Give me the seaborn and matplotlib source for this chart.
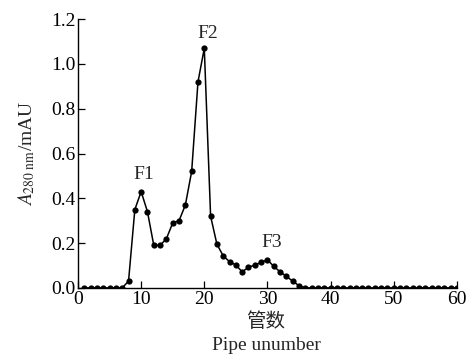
import numpy as np
import pandas as pd
import matplotlib
matplotlib.use("Agg")
import matplotlib.pyplot as plt
import seaborn as sns

# tube number and absorbance
tubes = list(range(1, 61))
absorbance = ([0.0] * 7 +
              [0.03, 0.35, 0.43, 0.34, 0.19, 0.19, 0.22, 0.29, 0.30, 0.37,
               0.52, 0.92, 1.07, 0.32, 0.195, 0.143, 0.117, 0.102, 0.072,
               0.092, 0.102, 0.114, 0.126, 0.096, 0.072, 0.052, 0.03, 0.01] +
              [0.0] * 25)
peak_labels = ["F1", "F2", "F3"]
peak_x = [10.4, 20.6, 30.6]
peak_y = [0.47, 1.10, 0.165]

df = pd.DataFrame({"tube": tubes, "a280": absorbance})

sns.set_theme(style="ticks")
plt.rcParams["font.family"] = ["Liberation Serif", "DejaVu Serif"]
plt.rcParams["mathtext.fontset"] = "stix"

fig = plt.figure(figsize=(4.7, 3.55), dpi=100)
ax = fig.add_axes([0.166, 0.189, 0.806, 0.757])

sns.lineplot(data=df, x="tube", y="a280", ax=ax, color="black", linewidth=1.1,
             marker="o", markersize=4.5, markeredgewidth=0, markerfacecolor="black")

for lab, x, y in zip(peak_labels, peak_x, peak_y):
    ax.text(x, y, lab, ha="center", va="bottom", fontsize=14)

ax.set_xlim(0, 60)
ax.set_ylim(0, 1.2)
ax.set_xticks(np.arange(0, 61, 10))
ax.set_yticks(np.arange(0, 1.21, 0.2))
ax.set_yticklabels([f"{v:.1f}" for v in np.arange(0, 1.21, 0.2)])
ax.tick_params(direction="in", length=5, width=0.9, labelsize=14, pad=2,
               colors="black")
for s in ["left", "bottom"]:
    ax.spines[s].set_color("black")
    ax.spines[s].set_linewidth(1.0)
sns.despine(ax=ax)

ax.set_xlabel("")
ax.set_ylabel(r"$\mathit{A}_{\mathrm{280\ nm}}$/mAU", fontsize=14, labelpad=10)

fig.text(0.566, 0.093, "管数", ha="center", va="center", fontsize=14,
         family=["Noto Sans CJK SC", "DejaVu Sans"])
fig.text(0.566, 0.028, "Pipe unumber", ha="center", va="center", fontsize=14)

fig.savefig("out.png", dpi=100)
